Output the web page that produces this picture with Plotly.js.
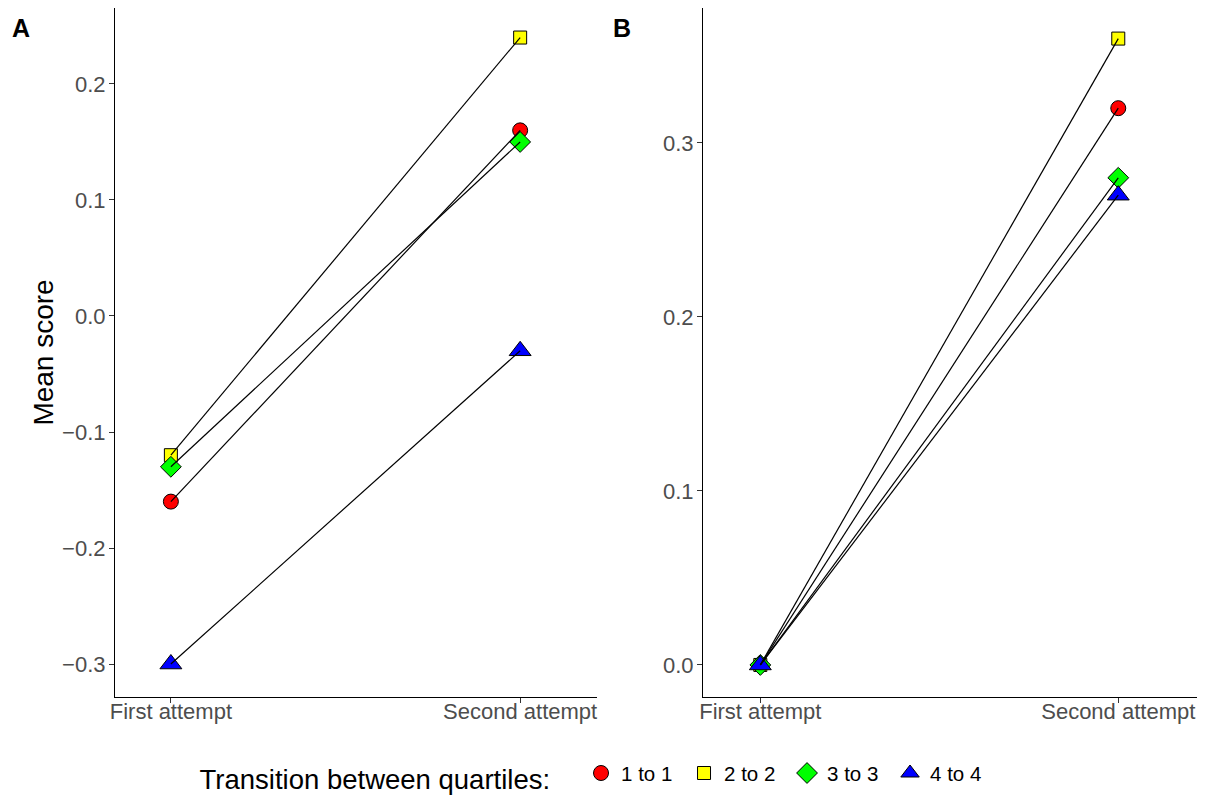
<!DOCTYPE html>
<html><head><meta charset="utf-8">
<script src="https://cdn.plot.ly/plotly-3.0.1.min.js"></script>
<style>body{margin:0;padding:0;background:#fff}#chart{width:1208px;height:796px}</style>
</head><body><div id="chart"></div>
<script>
const attempts = ["First attempt", "Second attempt"];
const groups = ["1 to 1", "2 to 2", "3 to 3", "4 to 4"];
const panelA = {
  "1 to 1": [-0.16, 0.16],
  "2 to 2": [-0.12, 0.24],
  "3 to 3": [-0.13, 0.15],
  "4 to 4": [-0.30, -0.03]
};
const panelB = {
  "1 to 1": [0.00, 0.32],
  "2 to 2": [0.00, 0.36],
  "3 to 3": [0.00, 0.28],
  "4 to 4": [0.00, 0.27]
};
const panelLabels = ["A", "B"];

const colors = {"1 to 1": "#FF0000", "2 to 2": "#FFFF00", "3 to 3": "#00FF00", "4 to 4": "#0000FF"};
const symbols = {"1 to 1": "circle", "2 to 2": "square", "3 to 3": "diamond", "4 to 4": "triangle-up"};
const sizes = {"1 to 1": 15, "2 to 2": 13, "3 to 3": 16, "4 to 4": 19};

const traces = [];
[[panelA, "x", "y", true], [panelB, "x2", "y2", false]].forEach(([panel, xa, ya, leg]) => {
  groups.forEach(g => {
    traces.push({
      type: "scatter", mode: "markers", x: attempts, y: panel[g], xaxis: xa, yaxis: ya,
      name: g, showlegend: leg, legendgroup: g, cliponaxis: false,
      marker: {color: colors[g], symbol: symbols[g], size: sizes[g], line: {color: "#000", width: 1}},
      hoverinfo: "x+y+name"
    });
  });
  groups.forEach(g => {
    traces.push({
      type: "scatter", mode: "lines", x: attempts, y: panel[g], xaxis: xa, yaxis: ya,
      showlegend: false, legendgroup: g, hoverinfo: "skip",
      line: {color: "#000", width: 1.2}
    });
  });
});

const tickFont = {family: "Liberation Sans, Arial, sans-serif", size: 22, color: "#4D4D4D"};
const xBase = {
  type: "category", range: [-0.16, 1.22], showgrid: false, zeroline: false,
  showline: true, linecolor: "#000", linewidth: 1.1, ticks: "outside", ticklen: 5,
  tickcolor: "#333", tickwidth: 1, tickfont: tickFont, fixedrange: true, ticklabelstandoff: -10
};
const yBase = {
  showgrid: false, zeroline: false, showline: true, linecolor: "#000", linewidth: 1.1,
  ticks: "outside", ticklen: 5, tickcolor: "#333", tickwidth: 1, tickfont: tickFont,
  tickformat: ".1f", dtick: 0.1, ticklabelstandoff: -1
};

const layout = {
  width: 1208, height: 796,
  margin: {l: 0, r: 0, t: 0, b: 0, autoexpand: false},
  paper_bgcolor: "#fff", plot_bgcolor: "#fff",
  font: {family: "Liberation Sans, Arial, sans-serif", color: "#000"},
  xaxis: Object.assign({}, xBase, {domain: [0.0952, 0.4942], anchor: "y"}),
  yaxis: Object.assign({}, yBase, {domain: [0.1244, 0.990], anchor: "x", range: [-0.3284, 0.2655], tick0: -0.3,
    title: {text: "Mean score", font: {size: 28, color: "#000"}, standoff: 0}}),
  xaxis2: Object.assign({}, xBase, {domain: [0.582, 0.9909], anchor: "y2"}),
  yaxis2: Object.assign({}, yBase, {domain: [0.1244, 0.990], anchor: "x2", range: [-0.0184, 0.3776], tick0: 0}),
  showlegend: true,
  legend: {
    orientation: "h", x: 0.493, xanchor: "center", y: -0.004, yanchor: "bottom",
    font: {size: 20.5, color: "#000"},
    title: {text: "Transition between quartiles:\u00a0\u00a0\u00a0", font: {size: 27.5, color: "#000"}, side: "left"},
    entrywidth: 58, entrywidthmode: "pixels", bgcolor: "rgba(0,0,0,0)", traceorder: "normal"
  },
  annotations: [
    {text: "<b>" + panelLabels[0] + "</b>", xref: "paper", yref: "paper", x: 21/1208, y: 1 - 28/796,
     xanchor: "center", yanchor: "middle", showarrow: false, font: {size: 25, color: "#000"}},
    {text: "<b>" + panelLabels[1] + "</b>", xref: "paper", yref: "paper", x: 622/1208, y: 1 - 28/796,
     xanchor: "center", yanchor: "middle", showarrow: false, font: {size: 25, color: "#000"}}
  ]
};

Plotly.newPlot("chart", traces, layout, {displayModeBar: false, responsive: false});
</script>
</body></html>
